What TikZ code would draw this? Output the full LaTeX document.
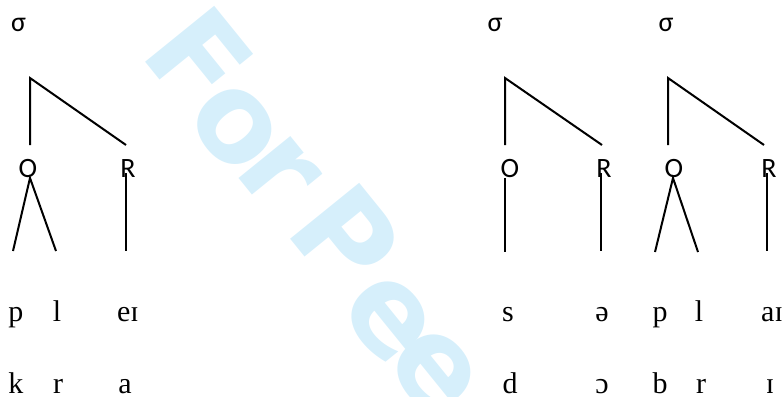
\documentclass[tikz,border=0pt]{standalone}
\usepackage{fontspec}
\setmainfont{Liberation Serif}
\newfontfamily\calib{Carlito}
\newfontfamily\wmfont{DejaVu Sans}
\definecolor{wm}{RGB}{214,239,251}
\begin{document}
\begin{tikzpicture}[x=1pt,y={(0pt,-1pt)},
  lab/.style={font=\calib\fontsize{28}{30}\selectfont, anchor=base, inner sep=0pt},
  seg/.style={font=\fontsize{30}{32}\selectfont, anchor=base, inner sep=0pt},
  wmk/.style={anchor=center, inner sep=0pt, rotate=-51, text=wm, font=\wmfont\bfseries\fontsize{122}{130}\selectfont},
  br/.style={line width=2pt, black}]
\useasboundingbox (0,0) rectangle (783,396);
% ---------- watermark ----------
\begin{scope}
\clip (0,0) rectangle (783,396);
\node[wmk] (wF) at (199,58) {F};
\node[wmk] (wo) at (235,127) {o};
\node[wmk] (wr) at (278,172) {r};
\node[wmk] (wP) at (346,237) {P};
\node[wmk] (we1) at (388,319) {e};
\node[wmk] (we2) at (434,372) {e};
\end{scope}
% ---------- left tree ----------
\node[lab] (s1) at (18.5,31) {σ};
\coordinate (a1) at (30,78);
\coordinate (a1o) at (30,145);
\coordinate (a1r) at (126,145);
\draw[br] (a1o) -- (a1) -- (a1r);
\node[lab] (O1) at (28,177) {O};
\node[lab] (R1) at (128,177) {R};
\coordinate (O1b) at (30,178);
\coordinate (O1l) at (13,251);
\coordinate (O1r) at (56,251);
\draw[br] (O1l) -- (O1b) -- (O1r);
\coordinate (R1t) at (126,173);
\coordinate (R1b) at (126,251);
\draw[br] (R1t) -- (R1b);
\node[seg] (p1) at (16,321) {p};
\node[seg] (l1) at (57,321) {l};
\node[seg] (v1) at (128,321) {eɪ};
\node[seg] (k1) at (16,393) {k};
\node[seg] (r1) at (58,393) {r};
\node[seg] (w1) at (125,393) {a};
% ---------- middle tree ----------
\node[lab] (s2) at (495,31) {σ};
\coordinate (a2) at (505,78);
\coordinate (a2o) at (505,145);
\coordinate (a2r) at (602,145);
\draw[br] (a2o) -- (a2) -- (a2r);
\node[lab] (O2) at (510,177) {O};
\node[lab] (R2) at (604,177) {R};
\coordinate (O2t) at (505,178);
\coordinate (O2b) at (505,252);
\draw[br] (O2t) -- (O2b);
\coordinate (R2t) at (601,173);
\coordinate (R2b) at (601,251);
\draw[br] (R2t) -- (R2b);
\node[seg] (c2) at (508,321) {s};
\node[seg] (v2) at (602,321) {ə};
\node[seg] (d2) at (510,393) {d};
\node[seg] (w2) at (602,393) {ɔ};
% ---------- right tree ----------
\node[lab] (s3) at (666,31) {σ};
\coordinate (a3) at (668,78);
\coordinate (a3o) at (668,145);
\coordinate (a3r) at (764,145);
\draw[br] (a3o) -- (a3) -- (a3r);
\node[lab] (O3) at (674,177) {O};
\node[lab] (R3) at (769,177) {R};
\coordinate (O3b) at (673,178);
\coordinate (O3l) at (655,252);
\coordinate (O3r) at (698,252);
\draw[br] (O3l) -- (O3b) -- (O3r);
\coordinate (R3t) at (767,173);
\coordinate (R3b) at (767,251);
\draw[br] (R3t) -- (R3b);
\node[seg] (p3) at (660,321) {p};
\node[seg] (l3) at (699,321) {l};
\node[seg] (v3) at (772,321) {aɪ};
\node[seg] (b3) at (660,393) {b};
\node[seg] (r3) at (701,393) {r};
\node[seg] (w3) at (770,393) {ɪ};
\end{tikzpicture}
\end{document}
